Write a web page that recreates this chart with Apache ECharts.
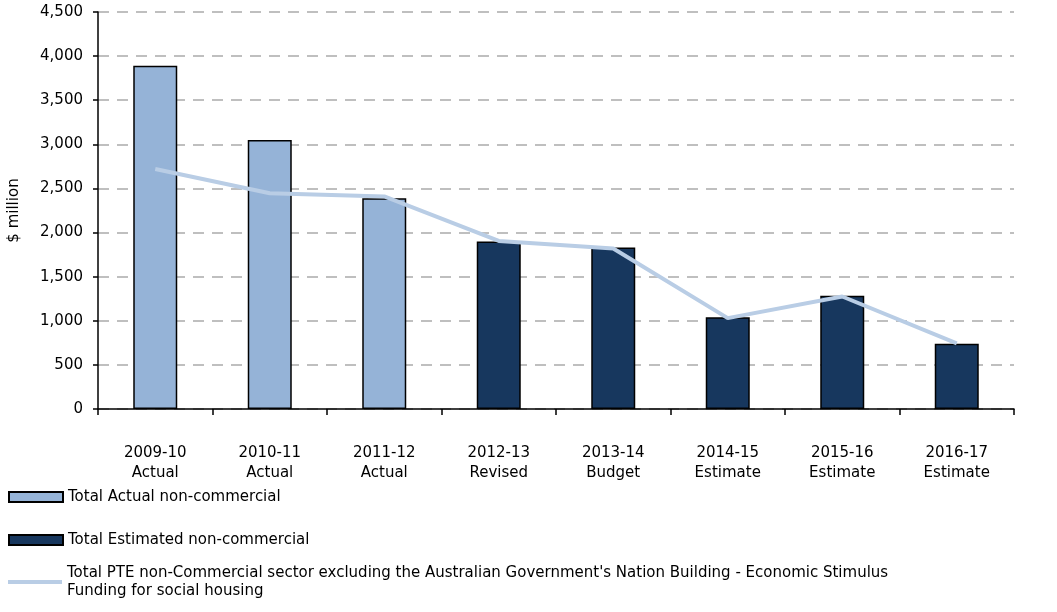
<!DOCTYPE html>
<html>
<head>
<meta charset="utf-8">
<script src="https://cdn.jsdelivr.net/npm/echarts@6/dist/echarts.min.js"></script>
<style>
  html, body { margin: 0; padding: 0; background: #fff; }
  #chart { width: 1057px; height: 612px; }
</style>
</head>
<body>
<div id="chart"></div>
<script>
// 年份与说明
let years = ["2009-10", "2010-11", "2011-12", "2012-13", "2013-14", "2014-15", "2015-16", "2016-17"];
let kinds = ["Actual", "Actual", "Actual", "Revised", "Budget", "Estimate", "Estimate", "Estimate"];
// 柱子数据（$ million）
let actualVals = [3890, 3050, 2390, "-", "-", "-", "-", "-"];
let estimatedVals = ["-", "-", "-", 1900, 1830, 1040, 1285, 740];
// 折线数据
let pteVals = [2720, 2445, 2410, 1905, 1820, 1030, 1275, 745];
let yTicks = [0, 500, 1000, 1500, 2000, 2500, 3000, 3500, 4000, 4500];

let nameA = "Total Actual non-commercial";
let nameE = "Total Estimated non-commercial";
let nameL = "Total PTE non-Commercial sector excluding the Australian Government's Nation Building - Economic Stimulus Funding for social housing";

let font = "DejaVu Sans";
let cats = years.map(function (y, i) { return y + "\n" + kinds[i]; });

var myChart = echarts.init(document.getElementById("chart"));
var option = {
    animation: false,
    textStyle: { fontFamily: font },
    grid: { left: 98, right: 43, top: 12, bottom: 203, containLabel: false, outerBoundsMode: "none" },
    legend: [
        {
            orient: "vertical",
            left: 8,
            top: 488,
            padding: 0,
            itemGap: 25,
            itemWidth: 54,
            itemHeight: 10,
            icon: "rect",
            textStyle: { fontFamily: font, fontSize: 15, lineHeight: 18, color: "#000" },
            data: [nameA, nameE]
        },
        {
            orient: "vertical",
            left: 8,
            top: 555,
            padding: 0,
            itemWidth: 54,
            itemHeight: 4,
            icon: "rect",
            textStyle: { fontFamily: font, fontSize: 15, lineHeight: 18, color: "#000", padding: [18, 0, 0, 0] },
            formatter: function () {
                return "Total PTE non-Commercial sector excluding the Australian Government's Nation Building - Economic Stimulus\nFunding for social housing";
            },
            data: [nameL]
        }
    ],
    xAxis: {
        type: "category",
        data: cats,
        axisLine: { lineStyle: { color: "#000", width: 1.5 } },
        axisTick: { show: true, length: 6, lineStyle: { color: "#000", width: 1.5 } },
        axisLabel: { color: "#000", fontSize: 15, margin: 34, lineHeight: 20, fontFamily: font }
    },
    yAxis: {
        type: "value",
        min: 0,
        max: 4500,
        interval: 500,
        name: "$ million",
        nameLocation: "middle",
        nameGap: 76,
        nameRotate: 90,
        nameTextStyle: { color: "#000", fontSize: 15, fontFamily: font },
        axisLine: { show: true, lineStyle: { color: "#000", width: 1.5 } },
        axisTick: { show: true, length: 5, lineStyle: { color: "#000", width: 1.5 } },
        axisLabel: {
            color: "#000",
            fontSize: 15,
            margin: 15,
            fontFamily: font,
            formatter: function (v) {
                return yTicks.indexOf(v) >= 0 ? v.toLocaleString("en-US") : "";
            }
        },
        splitLine: { lineStyle: { color: "#BFBFBF", width: 2, type: [11, 8] } }
    },
    series: [
        {
            name: nameA,
            type: "bar",
            data: actualVals,
            barWidth: 44,
            barGap: "-100%",
            itemStyle: { color: "#95B3D7", borderColor: "#000", borderWidth: 1.5 }
        },
        {
            name: nameE,
            type: "bar",
            data: estimatedVals,
            barWidth: 44,
            barGap: "-100%",
            itemStyle: { color: "#17375E", borderColor: "#000", borderWidth: 1.5 }
        },
        {
            name: nameL,
            type: "line",
            data: pteVals,
            showSymbol: false,
            symbol: "none",
            lineStyle: { color: "#B9CDE5", width: 4 },
            itemStyle: { color: "#B9CDE5" },
            z: 5
        }
    ]
};
myChart.setOption(option);
</script>
</body>
</html>
